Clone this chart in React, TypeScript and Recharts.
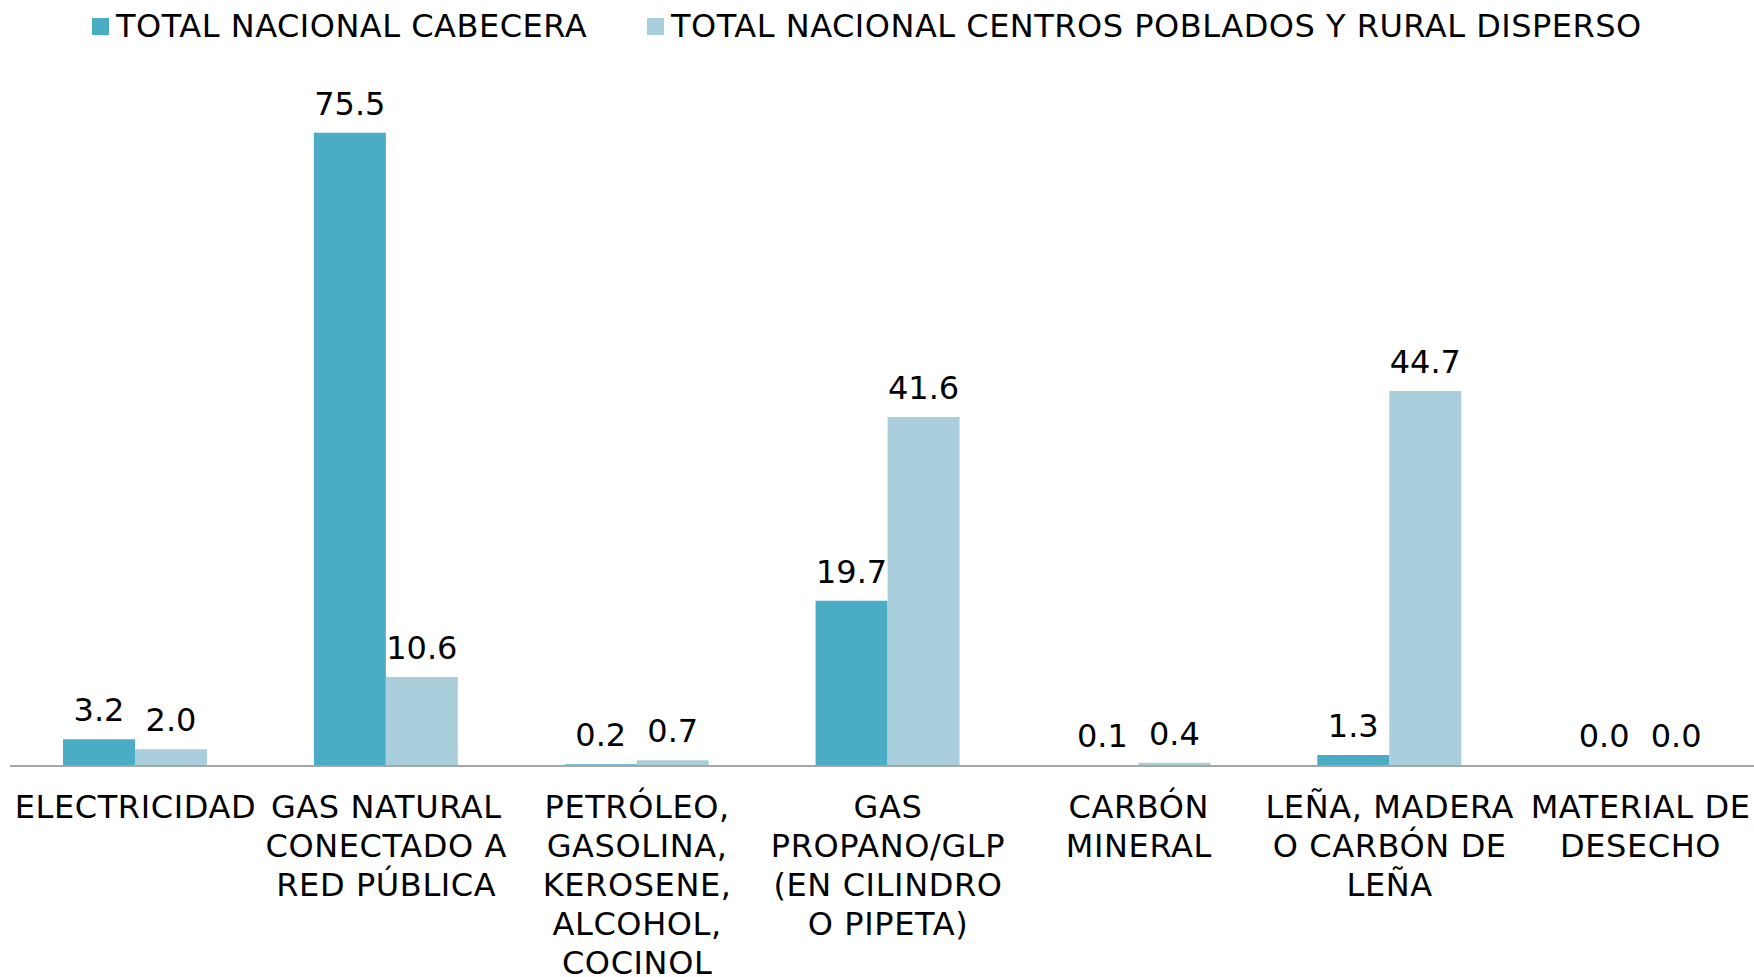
import { BarChart, Bar, XAxis, YAxis, Legend, LabelList } from 'recharts'

const categories = [
  'ELECTRICIDAD',
  'GAS NATURAL CONECTADO A RED PÚBLICA',
  'PETRÓLEO, GASOLINA, KEROSENE, ALCOHOL, COCINOL',
  'GAS PROPANO/GLP (EN CILINDRO O PIPETA)',
  'CARBÓN MINERAL',
  'LEÑA, MADERA O CARBÓN DE LEÑA',
  'MATERIAL DE DESECHO',
]

const tickLines: string[][] = [
  ['ELECTRICIDAD'],
  ['GAS NATURAL', 'CONECTADO A', 'RED PÚBLICA'],
  ['PETRÓLEO,', 'GASOLINA,', 'KEROSENE,', 'ALCOHOL,', 'COCINOL'],
  ['GAS', 'PROPANO/GLP', '(EN CILINDRO', 'O PIPETA)'],
  ['CARBÓN', 'MINERAL'],
  ['LEÑA, MADERA', 'O CARBÓN DE', 'LEÑA'],
  ['MATERIAL DE', 'DESECHO'],
]

const cabecera = [3.2, 75.5, 0.2, 19.7, 0.1, 1.3, 0.0]
const rural = [2.0, 10.6, 0.7, 41.6, 0.4, 44.7, 0.0]

const seriesNames = ['TOTAL NACIONAL CABECERA', 'TOTAL NACIONAL CENTROS POBLADOS Y RURAL DISPERSO']
const colors = ['#4bacc6', '#a9cfdd']

const data = categories.map((name, i) => ({ name, cabecera: cabecera[i], rural: rural[i] }))

const FONT = '"DejaVu Sans", Verdana, sans-serif'

function Tick(props: any) {
  const { x, y, index } = props
  const lines = tickLines[index] ?? [props.payload?.value]
  return (
    <text x={x} y={y} textAnchor="middle" fill="#000" fontSize={32} letterSpacing={0.6} fontFamily={FONT}>
      {lines.map((l, i) => (
        <tspan key={i} x={x} dy={i === 0 ? 52 : 39}>
          {l}
        </tspan>
      ))}
    </text>
  )
}

function LegendContent() {
  return (
    <div style={{ height: 52, display: 'flex', alignItems: 'center', paddingLeft: 92, fontFamily: FONT, fontSize: 32, letterSpacing: 0.5, color: '#000' }}>
      {seriesNames.map((n, i) => (
        <div key={n} style={{ display: 'flex', alignItems: 'center', marginRight: 60 }}>
          <span style={{ display: 'inline-block', width: 17, height: 17, background: colors[i], marginRight: 7 }} />
          <span>{n}</span>
        </div>
      ))}
    </div>
  )
}

const fmt = (v: any) => Number(v).toFixed(1)

export default function App() {
  return (
    <div style={{ position: 'absolute', left: 0, top: 0, width: 1754, height: 977, overflow: 'hidden', background: '#fff' }}>
      <BarChart width={1766} height={977} data={data} margin={{ top: 43, right: 0, left: 10, bottom: 0 }} barGap={0} barSize={72}>
        <Legend verticalAlign="top" wrapperStyle={{ top: 0, left: 0 }} content={<LegendContent />} />
        <XAxis
          dataKey="name"
          interval={0}
          height={211}
          tickLine={false}
          tickSize={0}
          tickMargin={0}
          tick={<Tick />}
          axisLine={{ stroke: '#a6a6a6', strokeWidth: 2 }}
        />
        <YAxis hide domain={[0, 80]} />
        <Bar dataKey="cabecera" fill={colors[0]} minPointSize={1} isAnimationActive={false}>
          <LabelList dataKey="cabecera" position="top" offset={18} formatter={fmt} fill="#000" fontSize={32} fontFamily={FONT} />
        </Bar>
        <Bar dataKey="rural" fill={colors[1]} minPointSize={1} isAnimationActive={false}>
          <LabelList dataKey="rural" position="top" offset={18} formatter={fmt} fill="#000" fontSize={32} fontFamily={FONT} />
        </Bar>
      </BarChart>
    </div>
  )
}
